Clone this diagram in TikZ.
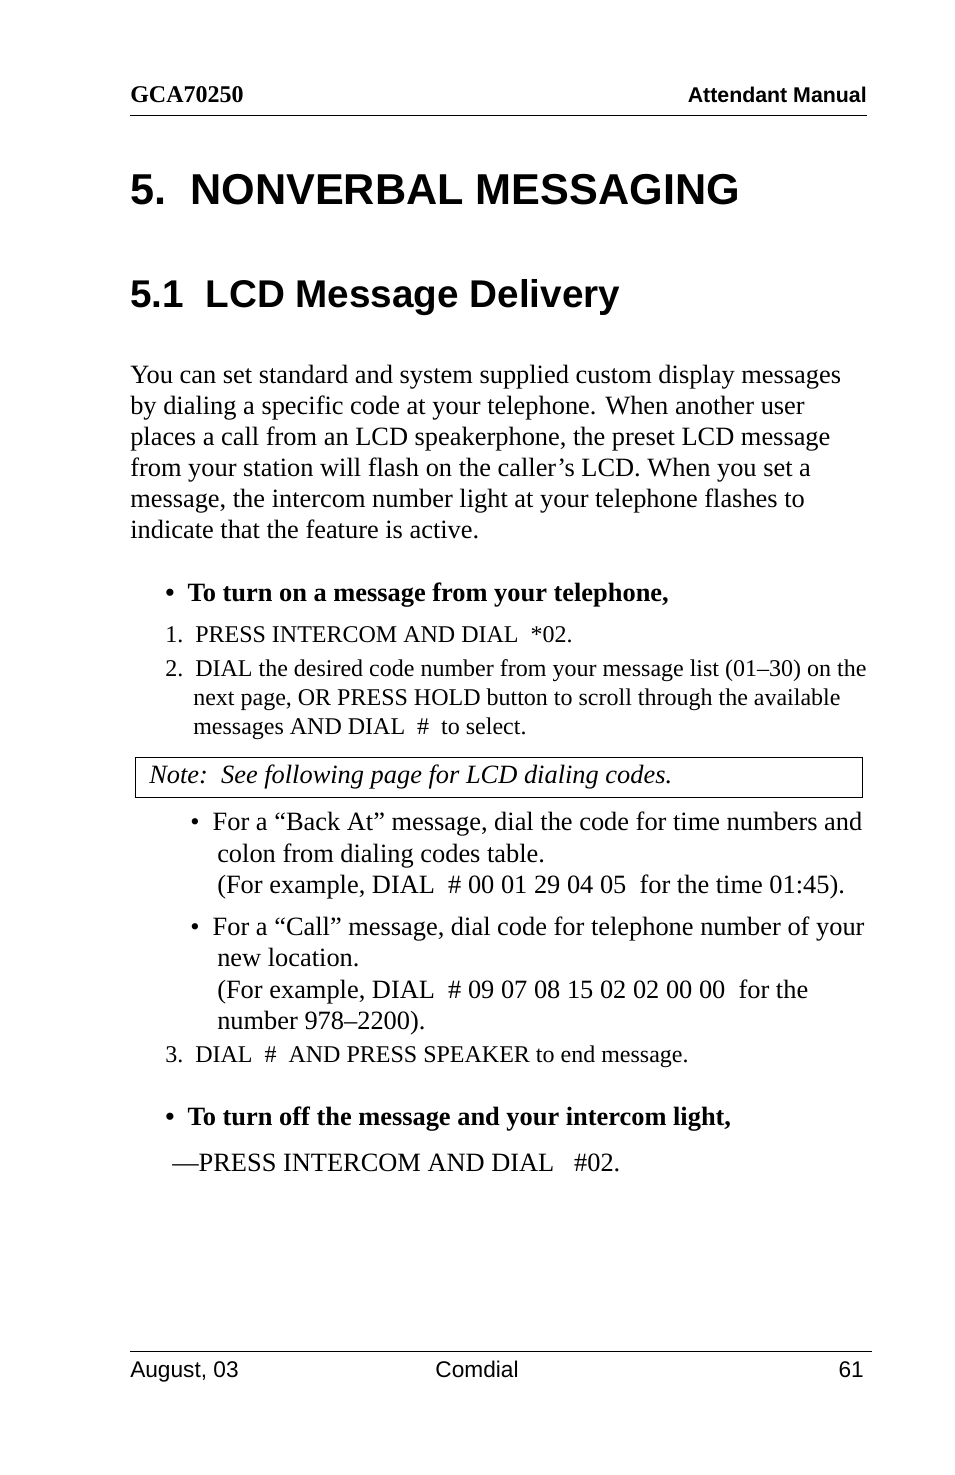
\documentclass[tikz,border=0pt]{standalone}
\usepackage{fontspec}
\setmainfont{Liberation Serif}
\setsansfont{Liberation Sans}
\begin{document}
\begin{tikzpicture}[x=0.75pt,y=-0.75pt,
  t/.style={anchor=base west,inner sep=0pt,font=\fontsize{19.8}{23}\selectfont},
  s/.style={anchor=base west,inner sep=0pt,font=\fontsize{18}{21}\selectfont},
  f/.style={anchor=base,inner sep=0pt,font=\sffamily\fontsize{17}{20}\selectfont},
  rule/.style={line width=0.6pt}]
\useasboundingbox (0,0) rectangle (954,1475);
\node[anchor=base west,inner sep=0pt,font=\bfseries\fontsize{18}{20}\selectfont] (h1) at (130,102) {GCA70250};
\node[anchor=base east,inner sep=0pt,font=\sffamily\bfseries\fontsize{16}{19}\selectfont] (h2) at (867,102) {Attendant Manual};
\draw[rule] (130,115) -- (867,115);
\node[anchor=base west,inner sep=0pt,font=\sffamily\bfseries\fontsize{32.4}{38}\selectfont] (ti) at (130,204) {5.\ \ NONVERBAL MESSAGING};
\node[anchor=base west,inner sep=0pt,font=\sffamily\bfseries\fontsize{29}{34}\selectfont] (st) at (130,307) {5.1\ \ LCD Message Delivery};
\node[t] (p1) at (130,383) {You can set standard and system supplied custom display messages};
\node[t] (p2) at (130,414) {by dialing a specific code at your telephone. When another user};
\node[t] (p3) at (130,445) {places a call from an LCD speakerphone, the preset LCD message};
\node[t] (p4) at (130,476) {from your station will flash on the caller’s LCD. When you set a};
\node[t] (p5) at (130,507) {message, the intercom number light at your telephone flashes to};
\node[t] (p6) at (130,538) {indicate that the feature is active.};
\node[t,font=\bfseries\fontsize{19.8}{23}\selectfont] (b1) at (165,601) {•\ \ To turn on a message from your telephone,};
\node[s] (s1) at (165,642) {1.\ \ PRESS INTERCOM AND DIAL\ \ *02.};
\node[s] (s2) at (165,676) {2.\ \ DIAL the desired code number from your message list (01–30) on the};
\node[s] (s2b) at (193,705) {next page, OR PRESS HOLD button to scroll through the available};
\node[s] (s2c) at (193,734) {messages AND DIAL\ \ \#\ \ to select.};
\draw[rule] (135,757) rectangle (862,797);
\node[t,font=\itshape\fontsize{19.8}{23}\selectfont] (nt) at (149,783) {Note:\ \ See following page for LCD dialing codes.};
\node[t] (a1) at (190,830) {•\ \ For a “Back At” message, dial the code for time numbers and};
\node[t] (a2) at (217,862) {colon from dialing codes table.};
\node[t] (a3) at (217,893) {(For example, DIAL\ \ \# 00 01 29 04 05\ \ for the time 01:45).};
\node[t] (c1) at (190,935) {•\ \ For a “Call” message, dial code for telephone number of your};
\node[t] (c2) at (217,966) {new location.};
\node[t] (c3) at (217,998) {(For example, DIAL\ \ \# 09 07 08 15 02 02 00 00\ \ for the};
\node[t] (c4) at (217,1029) {number 978–2200).};
\node[s] (s3) at (165,1062) {3.\ \ DIAL\ \ \#\ \ AND PRESS SPEAKER to end message.};
\node[t,font=\bfseries\fontsize{19.8}{23}\selectfont] (b2) at (165,1125) {•\ \ To turn off the message and your intercom light,};
\node[t] (o1) at (172,1171) {—PRESS INTERCOM AND DIAL\ \ \ \#02.};
\draw[rule] (130,1351) -- (872,1351);
\node[f,anchor=base west] (f1) at (130,1377) {August, 03};
\node[f] (f2) at (477,1377) {Comdial};
\node[f,anchor=base east] (f3) at (864,1377) {61};
\end{tikzpicture}
\end{document}
